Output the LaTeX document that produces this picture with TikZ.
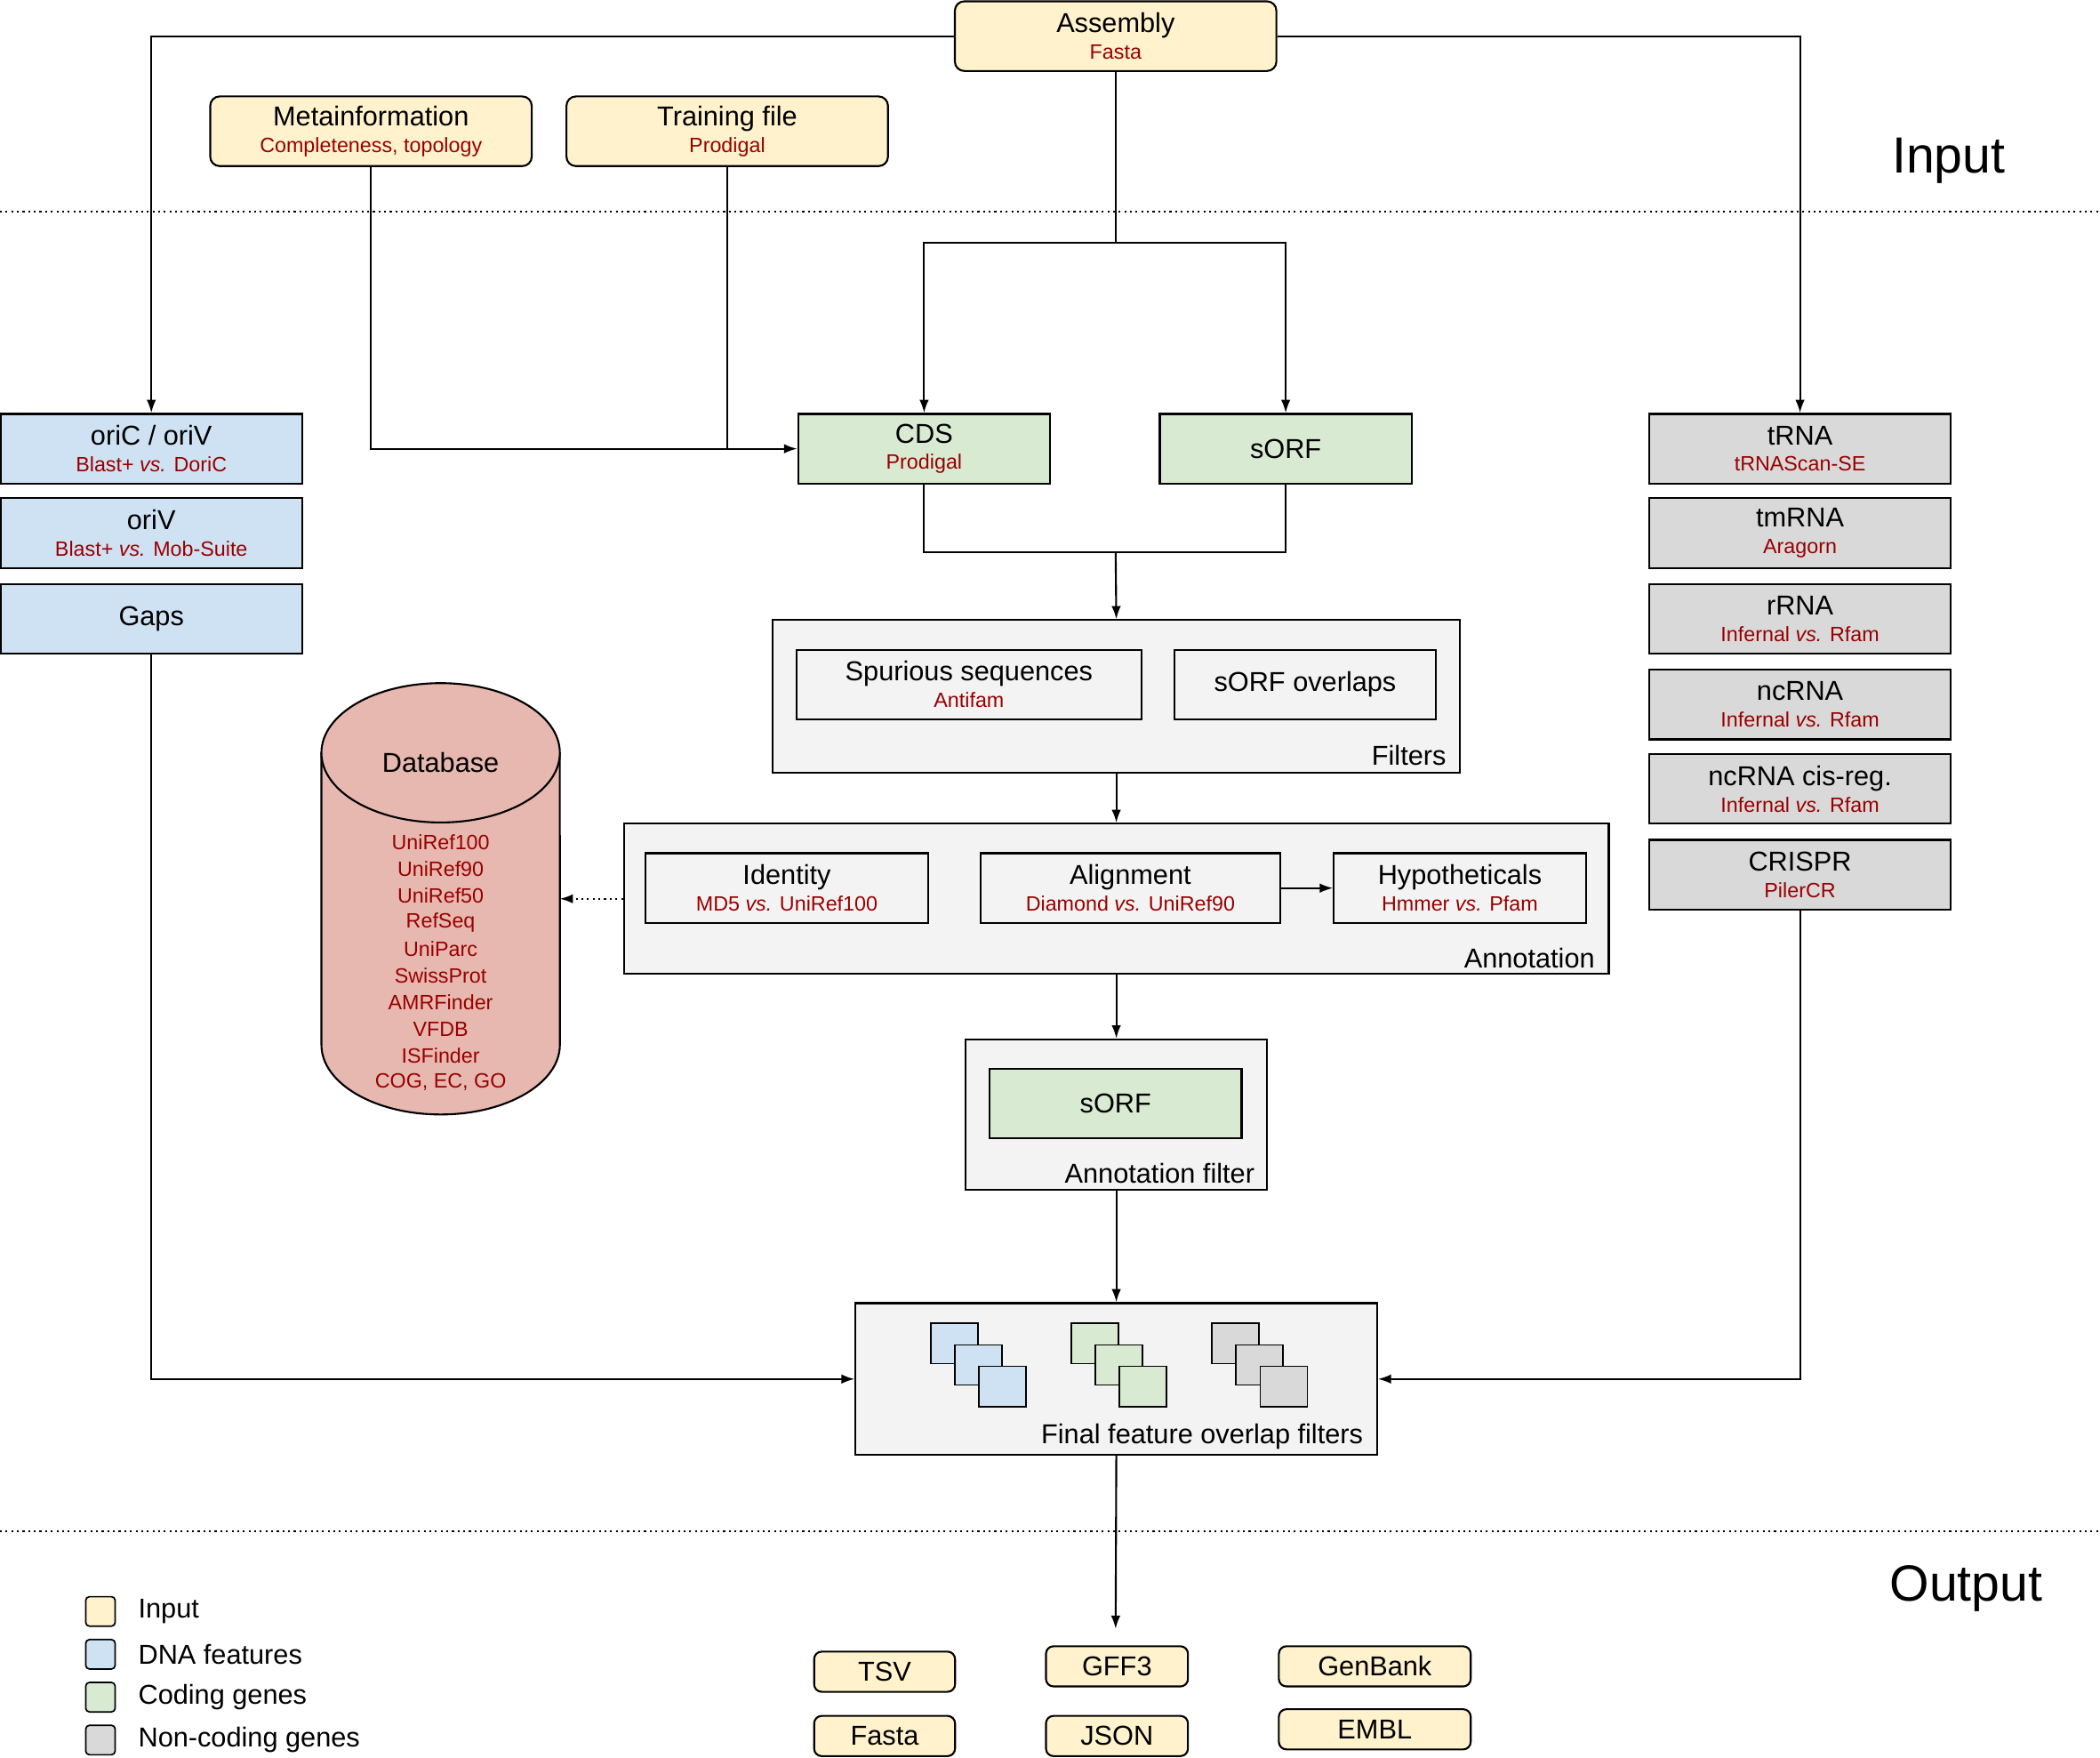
\documentclass[tikz,border=0pt]{standalone}
\usepackage{fontspec}
\setmainfont{Liberation Sans}
\usetikzlibrary{arrows.meta,positioning}
\definecolor{inyellow}{HTML}{FFF2CC}
\definecolor{dnablue}{HTML}{CFE2F3}
\definecolor{cdsgreen}{HTML}{D9EAD3}
\definecolor{ncgrey}{HTML}{D9D9D9}
\definecolor{dbred}{HTML}{E6B8AF}
\definecolor{boxgrey}{HTML}{F3F3F3}
\definecolor{subred}{HTML}{990000}
\newcommand{\sub}[1]{\\[-2pt]{\fontsize{11}{12}\selectfont\color{subred}#1}}
\begin{document}
\begin{tikzpicture}[x=0.025cm,y=-0.025cm,
    >={Latex[length=7pt,width=5pt]},
    every node/.style={font=\fontsize{14.5}{16}\selectfont, align=center, inner sep=0pt},
    base/.style={draw, line width=1pt, minimum width=#1},
    ybox/.style={base=#1, fill=inyellow, rounded corners=5pt, minimum height=1.3cm},
    bbox/.style={base=#1, fill=dnablue, minimum height=1.3cm},
    gbox/.style={base=#1, fill=cdsgreen, minimum height=1.3cm},
    nbox/.style={base=#1, fill=ncgrey, minimum height=1.3cm},
    wbox/.style={base=#1, fill=boxgrey, minimum height=1.3cm},
    cbox/.style={draw, line width=1pt, fill=boxgrey},
    obox/.style={base=#1, fill=inyellow, rounded corners=4pt, minimum height=0.75cm},
    link/.style={line width=1pt},
    sq/.style={draw, line width=0.8pt, minimum width=0.88cm, minimum height=0.75cm},
    lsq/.style={draw, line width=0.8pt, rounded corners=2pt, minimum width=0.55cm, minimum height=0.55cm},
    dbitem/.style={font=\fontsize{11}{12}\selectfont, text=subred},
    sep/.style={line width=1pt, dotted}]
\useasboundingbox (0,0) rectangle (1568,1312);

% input
\node[ybox=6cm] (asm) at (833,27) {Assembly\sub{Fasta}};
\node[ybox=6cm] (meta) at (277,98) {Metainformation\sub{Completeness, topology}};
\node[ybox=6cm] (train) at (543,98) {Training file\sub{Prodigal}};
\node[font=\fontsize{27}{30}\selectfont] (inlbl) at (1455,120) {Input};
\draw[sep] (0,158) -- (1568,158);

% dna features
\node[bbox=5.63cm] (ori) at (113,335) {oriC / oriV\sub{Blast+ \textit{vs.} DoriC}};
\node[bbox=5.63cm] (oriv) at (113,398) {oriV\sub{Blast+ \textit{vs.} Mob-Suite}};
\node[bbox=5.63cm] (gaps) at (113,462) {Gaps};

% coding
\node[gbox=4.7cm] (cds) at (690,335) {CDS\sub{Prodigal}};
\node[gbox=4.7cm] (sorf) at (960,335) {sORF};

% non-coding
\node[nbox=5.63cm] (trna) at (1344,335) {tRNA\sub{tRNAScan-SE}};
\node[nbox=5.63cm] (tmrna) at (1344,398) {tmRNA\sub{Aragorn}};
\node[nbox=5.63cm] (rrna) at (1344,462) {rRNA\sub{Infernal \textit{vs.} Rfam}};
\node[nbox=5.63cm] (ncrna) at (1344,526) {ncRNA\sub{Infernal \textit{vs.} Rfam}};
\node[nbox=5.63cm] (cisreg) at (1344,589) {ncRNA cis-reg.\sub{Infernal \textit{vs.} Rfam}};
\node[nbox=5.63cm] (crispr) at (1344,653) {CRISPR\sub{PilerCR}};

% filters
\node[cbox, minimum width=12.83cm, minimum height=2.85cm] (filt) at (833.5,520) {};
\node[wbox=6.43cm] (spur) at (723.5,511) {Spurious sequences\sub{Antifam}};
\node[wbox=4.88cm] (ovl) at (974.5,511) {sORF overlaps};
\node[anchor=south east] (filtlbl) at (1080,572) {Filters};

% annotation
\node[cbox, minimum width=18.38cm, minimum height=2.8cm] (anno) at (833.5,671) {};
\node[wbox=5.28cm] (ident) at (587.5,663) {Identity\sub{MD5 \textit{vs.} UniRef100}};
\node[wbox=5.6cm] (align) at (844,663) {Alignment\sub{Diamond \textit{vs.} UniRef90}};
\node[wbox=4.7cm] (hypo) at (1090,663) {Hypotheticals\sub{Hmmer \textit{vs.} Pfam}};
\node[anchor=south east] (annolbl) at (1191,723) {Annotation};

% database
\draw[line width=1pt, fill=dbred] (240,562) -- (240,780) arc[start angle=180, end angle=360, x radius=2.225cm, y radius=1.3cm] -- (418,562);
\draw[line width=1pt, fill=dbred] (329,562) ellipse [x radius=2.225cm, y radius=1.3cm];
\node (db) at (329,569) {Database};
\foreach \t [count=\i from 0] in {UniRef100,UniRef90,UniRef50,RefSeq,UniParc,SwissProt,AMRFinder,VFDB,ISFinder,{COG, EC, GO}}
  \node[dbitem] (db\i) at (329,629+19.9*\i) {\t};
\coordinate (dbin) at (418,671);

% annotation filter
\node[cbox, minimum width=5.63cm, minimum height=2.8cm] (afilt) at (833.5,832) {};
\node[gbox=4.7cm] (afsorf) at (833,824) {sORF};
\node[anchor=south east] (afiltlbl) at (937,884) {Annotation filter};

% final filters
\node[cbox, minimum width=9.73cm, minimum height=2.83cm] (final) at (833.5,1029.5) {};
\foreach \c/\x in {dnablue/695,cdsgreen/800,ncgrey/905}
  \foreach \k in {0,1,2}
    \node[sq, fill=\c] (sq\x\k) at (\x+17.5+18*\k,1003+16*\k) {};
\node[anchor=south east] (finallbl) at (1018,1082) {Final feature overlap filters};

% output
\draw[sep] (0,1143) -- (1568,1143);
\node[font=\fontsize{27}{30}\selectfont] (outlbl) at (1468,1186) {Output};
\coordinate (outin) at (833,1216);
\node[obox=2.63cm] (tsv) at (660.5,1248) {TSV};
\node[obox=2.63cm] (fasta) at (660.5,1296) {Fasta};
\node[obox=2.65cm] (gff) at (834,1244) {GFF3};
\node[obox=2.65cm] (json) at (834,1296) {JSON};
\node[obox=3.58cm] (gbk) at (1026.5,1244) {GenBank};
\node[obox=3.58cm] (embl) at (1026.5,1291) {EMBL};

% legend
\foreach \c/\t [count=\i from 0] in {inyellow/Input/output files,dnablue/DNA features,cdsgreen/Coding genes,ncgrey/Non-coding genes}{
  \node[lsq, fill=\c] (lg\i) at (75,1203+32*\i) {};
  \node[anchor=west] (lt\i) at (103,1203+32*\i) {\t};
}

% connectors
\draw[link,->] (asm.west) -| (ori.north);
\draw[link,->] (asm.east) -| (trna.north);
\draw[link] (asm.south) -- (833,181) coordinate (split);
\draw[link,->] (split) -| (cds.north);
\draw[link,->] (split) -| (sorf.north);
\draw[link,->] (meta.south) |- (cds.west);
\draw[link] (train.south) -- (543,335);
\draw[link] (cds.south) |- (833,412) coordinate (join);
\draw[link] (sorf.south) |- (join);
\draw[link,->] (join) -- (filt.north);
\draw[link,->] (filt.south) -- (anno.north);
\draw[link,->] (align.east) -- (hypo.west);
\draw[link,dotted,->] (anno.west) -- (dbin);
\draw[link,->] (anno.south) -- (afilt.north);
\draw[link,->] (afilt.south) -- (final.north);
\draw[link,->] (gaps.south) |- (final.west);
\draw[link,->] (crispr.south) |- (final.east);
\draw[link,->] (final.south) -- (outin);
\end{tikzpicture}
\end{document}
